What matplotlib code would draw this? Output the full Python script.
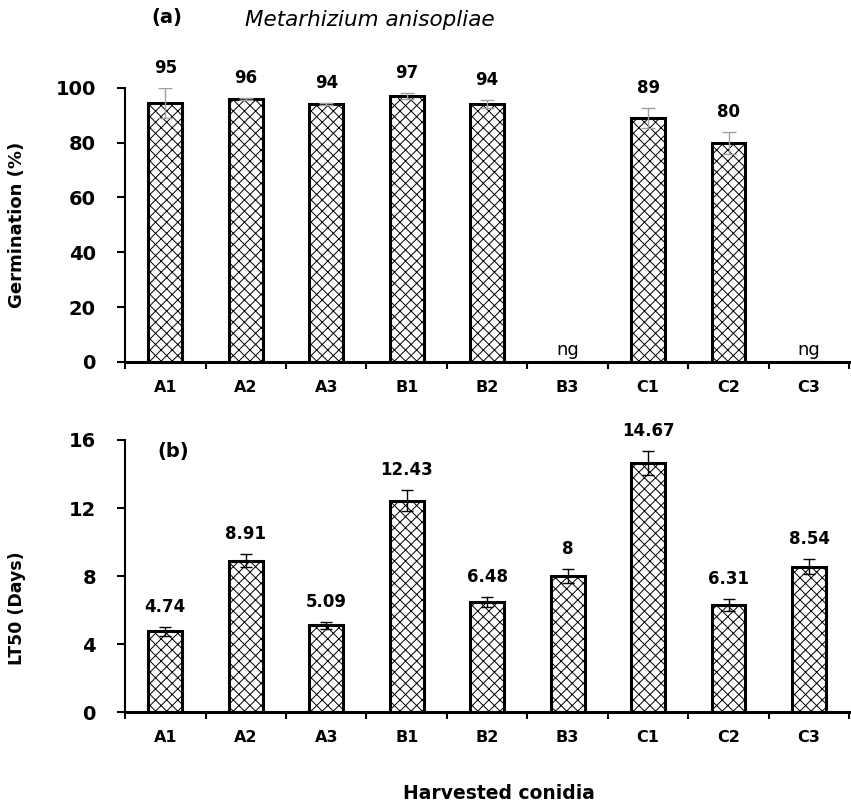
import numpy as np
import matplotlib
matplotlib.use('Agg')
import matplotlib.pyplot as plt
from matplotlib.ticker import MultipleLocator, FixedLocator

plt.rcParams['font.family'] = ['DejaVu Sans']
plt.rcParams['hatch.linewidth'] = 0.7

conidia = ['A1', 'A2', 'A3', 'B1', 'B2', 'B3', 'C1', 'C2', 'C3']

germ = [94.5, 95.8, 94.2, 97, 94, 0, 89, 80, 0]
germ_err = [5.5, 0.4, 0.3, 1.2, 1.5, 0, 3.5, 4, 0]
germ_lbl = ['95', '96', '94', '97', '94', 'ng', '89', '80', 'ng']

lt50 = [4.74, 8.91, 5.09, 12.43, 6.48, 8, 14.67, 6.31, 8.54]
lt50_err = [0.25, 0.4, 0.2, 0.6, 0.3, 0.4, 0.7, 0.35, 0.45]
lt50_lbl = ['4.74', '8.91', '5.09', '12.43', '6.48', '8', '14.67', '6.31', '8.54']

fig = plt.figure(figsize=(8.51, 8.06), dpi=100)
ax1 = fig.add_axes([0.147, 0.551, 0.851, 0.340])
ax2 = fig.add_axes([0.147, 0.1166, 0.851, 0.3375])

x = np.arange(len(conidia))


def style(ax, top, step):
    ax.set_xlim(-0.5, len(conidia) - 0.5)
    ax.set_ylim(0, top)
    ax.yaxis.set_major_locator(MultipleLocator(step))
    ax.spines['top'].set_visible(False)
    ax.spines['right'].set_visible(False)
    ax.spines['left'].set_linewidth(1.5)
    ax.spines['bottom'].set_linewidth(2.2)
    ax.set_xticks(x)
    ax.set_xticklabels(conidia, fontsize=11.5, fontweight='bold')
    ax.xaxis.set_minor_locator(FixedLocator(np.arange(-0.5, len(conidia), 1)))
    ax.tick_params(axis='x', which='major', length=0, pad=13)
    ax.tick_params(axis='x', which='minor', length=5, width=1.5, direction='out')
    ax.tick_params(axis='y', length=6, width=1.5, direction='out', labelsize=14, pad=15)
    for t in ax.get_yticklabels():
        t.set_fontweight('bold')


ax1.bar(x, germ, width=0.42, color='white', edgecolor='black', linewidth=2.2, hatch='xxx')
ax1.errorbar([i for i in x if germ[i] > 0], [g for g in germ if g > 0],
             yerr=[e for g, e in zip(germ, germ_err) if g > 0],
             fmt='none', ecolor='#a0a0a0', elinewidth=1, capsize=5)
for i in x:
    if germ[i] > 0:
        ax1.annotate(germ_lbl[i], (i, germ[i] + germ_err[i]), xytext=(0, 8),
                     textcoords='offset points', ha='center', va='bottom',
                     fontsize=12, fontweight='bold')
    else:
        ax1.text(i, 1, germ_lbl[i], ha='center', va='bottom', fontsize=13)
style(ax1, 100, 20)
ax1.set_ylabel('Germination (%)', fontsize=13, fontweight='bold')
ax1.yaxis.set_label_coords(-0.137, 0.5)

ax2.bar(x, lt50, width=0.42, color='white', edgecolor='black', linewidth=2.2, hatch='xxx')
ax2.errorbar(x, lt50, yerr=lt50_err, fmt='none', ecolor='black', elinewidth=1, capsize=4.5)
for i in x:
    ax2.annotate(lt50_lbl[i], (i, lt50[i] + lt50_err[i]), xytext=(0, 8),
                 textcoords='offset points', ha='center', va='bottom',
                 fontsize=12, fontweight='bold')
style(ax2, 16, 4)
ax2.set_ylabel('LT50 (Days)', fontsize=12.5, fontweight='bold')
ax2.yaxis.set_label_coords(-0.137, 0.38)

fig.text(0.196, 0.978, '(a)', fontsize=14, fontweight='bold', ha='center', va='center')
fig.text(0.288, 0.975, 'Metarhizium anisopliae', fontsize=15.5, fontstyle='italic',
         ha='left', va='center')
ax2.text(0.066, 0.956, '(b)', transform=ax2.transAxes, fontsize=14, fontweight='bold',
         ha='center', va='center')
fig.text(0.586, 0.016, 'Harvested conidia', fontsize=13.5, fontweight='bold',
         ha='center', va='center')

fig.savefig('out.png', dpi=100)
